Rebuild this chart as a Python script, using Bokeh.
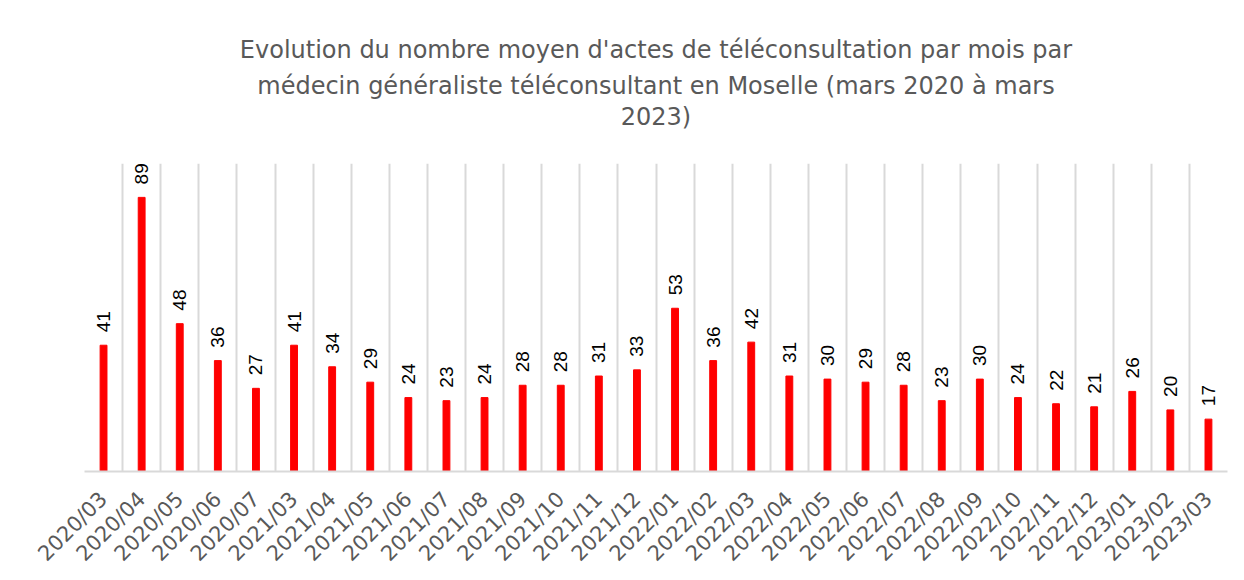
from bokeh.plotting import figure
from bokeh.models import ColumnDataSource, Range1d, FixedTicker, LabelSet, Title
from bokeh.core.properties import value
from bokeh.embed import file_html
from bokeh.resources import INLINE
import math

categories = ["2020/03", "2020/04", "2020/05", "2020/06", "2020/07",
              "2021/03", "2021/04", "2021/05", "2021/06", "2021/07",
              "2021/08", "2021/09", "2021/10", "2021/11", "2021/12",
              "2022/01", "2022/02", "2022/03", "2022/04", "2022/05",
              "2022/06", "2022/07", "2022/08", "2022/09", "2022/10",
              "2022/11", "2022/12", "2023/01", "2023/02", "2023/03"]
values = [41, 89, 48, 36, 27, 41, 34, 29, 24, 23, 24, 28, 28, 31, 33,
          53, 36, 42, 31, 30, 29, 28, 23, 30, 24, 22, 21, 26, 20, 17]
title_lines = ["Evolution du nombre moyen d'actes de téléconsultation par mois par",
               "médecin généraliste téléconsultant en Moselle (mars 2020 à mars",
               "2023)"]

xs = [i + 0.5 for i in range(len(categories))]
source = ColumnDataSource(dict(x=xs, top=values, label=[str(v) for v in values]))

p = figure(width=1236, height=577, output_backend="svg", toolbar_location=None,
           x_range=Range1d(0, len(categories)), y_range=Range1d(0, 100),
           min_border_left=84, min_border_right=9, min_border_top=163,
           min_border_bottom=90, title=None)

# spacer between the frame and the title block
p.add_layout(Title(text=" ", text_font_size="1px", standoff=30), "above")
# lines added from the frame outward
title_gaps = [10, 2, 0]
for line, gap in reversed(list(zip(title_lines, title_gaps))):
    t = Title(text=line, align="center", text_font="DejaVu Sans",
              text_font_size="24px", text_font_style="normal", text_color="#595959",
              standoff=gap, offset=0)
    p.add_layout(t, "above")

p.vbar(x="x", top="top", width=0.18, color="#FF0000", source=source)

labels = LabelSet(x="x", y="top", text="label", source=source, angle=math.pi / 2,
                  text_align="left", text_baseline="middle", y_offset=13,
                  text_font=value("Liberation Sans"), text_font_size="19px",
                  text_color="#000000")
p.add_layout(labels)

p.yaxis.visible = False
p.ygrid.grid_line_color = None
p.xgrid.ticker = FixedTicker(ticks=list(range(len(categories) + 1)))
p.xgrid.grid_line_color = "#d9d9d9"
p.xgrid.grid_line_width = 2

ax = p.xaxis[0]
ax.ticker = FixedTicker(ticks=xs)
ax.major_label_overrides = {x: c for x, c in zip(xs, categories)}
ax.major_label_orientation = math.pi / 4
ax.major_label_text_font = "DejaVu Sans"
ax.major_label_text_font_size = "21px"
ax.major_label_text_color = "#595959"
ax.major_label_standoff = 18
ax.major_tick_line_color = None
ax.minor_tick_line_color = None
ax.axis_line_color = "#d9d9d9"
ax.axis_line_width = 2

p.outline_line_color = None
p.background_fill_color = "white"
p.border_fill_color = "white"

open("out.html", "w").write(file_html(p, INLINE))
